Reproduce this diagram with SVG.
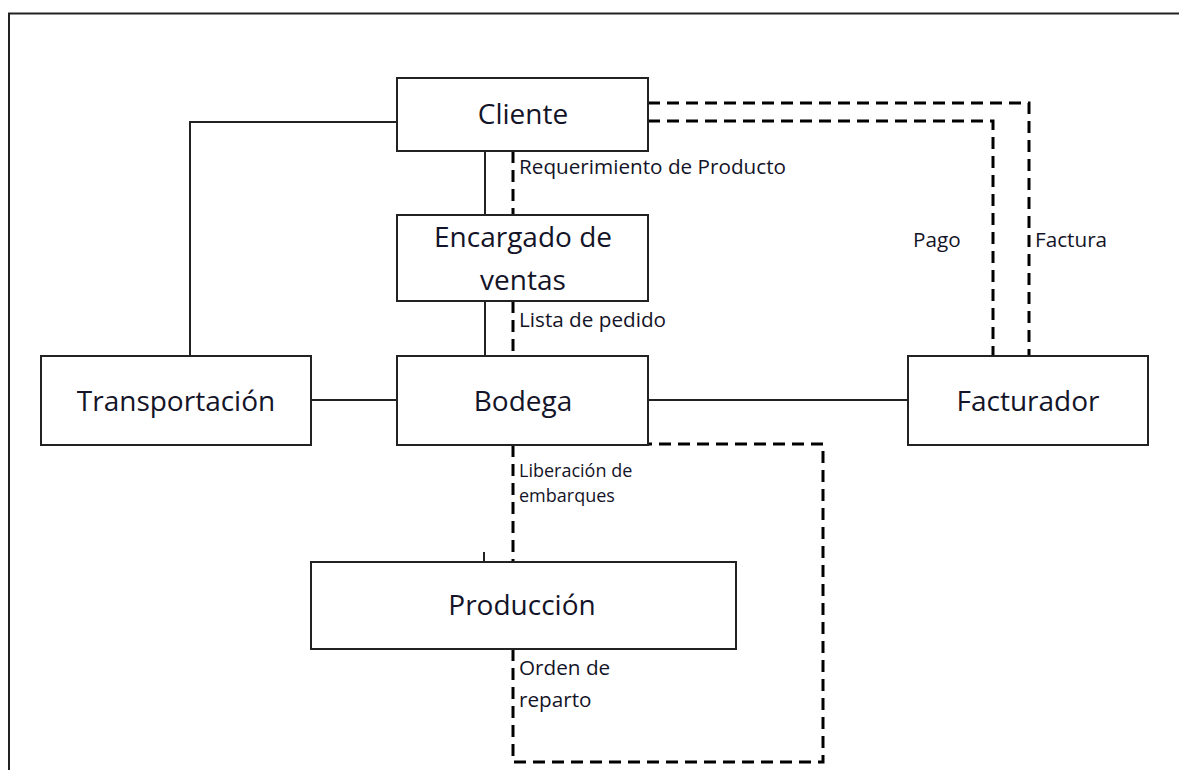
<svg xmlns="http://www.w3.org/2000/svg" width="1179" height="770" viewBox="0 0 1179 770">
<style>
.box{fill:#fff;stroke:#222;stroke-width:2}
.big{font-family:"Open Sans","Liberation Sans",sans-serif;font-size:28px;fill:#141428;text-anchor:middle}
.lbl{font-family:"Open Sans","Liberation Sans",sans-serif;font-size:20.7px;fill:#141428}
.solid{fill:none;stroke:#222;stroke-width:2}
.dash{fill:none;stroke:#000;stroke-width:3;stroke-dasharray:12 7}
</style>
<rect width="1179" height="770" fill="#fff"/>
<path d="M9,770 V13.5 H1179" fill="none" stroke="#222" stroke-width="2"/>
<g id="connectors">
<path class="solid" d="M397,122 H190 V356"/>
<path class="solid" d="M485,151 V215"/>
<path class="solid" d="M485,301 V356"/>
<path class="solid" d="M311,400 H397"/>
<path class="solid" d="M648,400 H908"/>
<path class="solid" d="M484,552 V562"/>
<path class="dash" d="M513,151 V215"/>
<path class="dash" d="M513,301 V356"/>
<path class="dash" d="M513,445 V562"/>
<path class="dash" d="M513,649 V762 H823 V444 H648"/>
<path class="dash" d="M648,103 H1029 V356"/>
<path class="dash" d="M648,121 H993 V356"/>
<text class="lbl" x="519" y="174">Requerimiento de Producto</text>
<text class="lbl" x="519" y="327">Lista de pedido</text>
<text class="lbl" x="519" y="477" style="font-size:18px">Liberación de</text>
<text class="lbl" x="519" y="502" style="font-size:18px">embarques</text>
<text class="lbl" x="519" y="675">Orden de</text>
<text class="lbl" x="519" y="707">reparto</text>
<text class="lbl" x="913" y="247">Pago</text>
<text class="lbl" x="1035" y="247">Factura</text>
</g>
<g id="cliente">
<rect class="box" x="397" y="78" width="251" height="73"/>
<text class="big" x="523" y="124">Cliente</text>
</g>
<g id="encargado">
<rect class="box" x="397" y="215" width="251" height="86"/>
<text class="big" x="523" y="247">Encargado de</text>
<text class="big" x="523" y="290">ventas</text>
</g>
<g id="transportacion">
<rect class="box" x="41" y="356" width="270" height="89"/>
<text class="big" x="176" y="411">Transportación</text>
</g>
<g id="bodega">
<rect class="box" x="397" y="356" width="251" height="89"/>
<text class="big" x="523" y="411">Bodega</text>
</g>
<g id="facturador">
<rect class="box" x="908" y="356" width="240" height="89"/>
<text class="big" x="1028" y="411">Facturador</text>
</g>
<g id="produccion">
<rect class="box" x="311" y="562" width="425" height="87"/>
<text class="big" x="522" y="615">Producción</text>
</g>
</svg>
